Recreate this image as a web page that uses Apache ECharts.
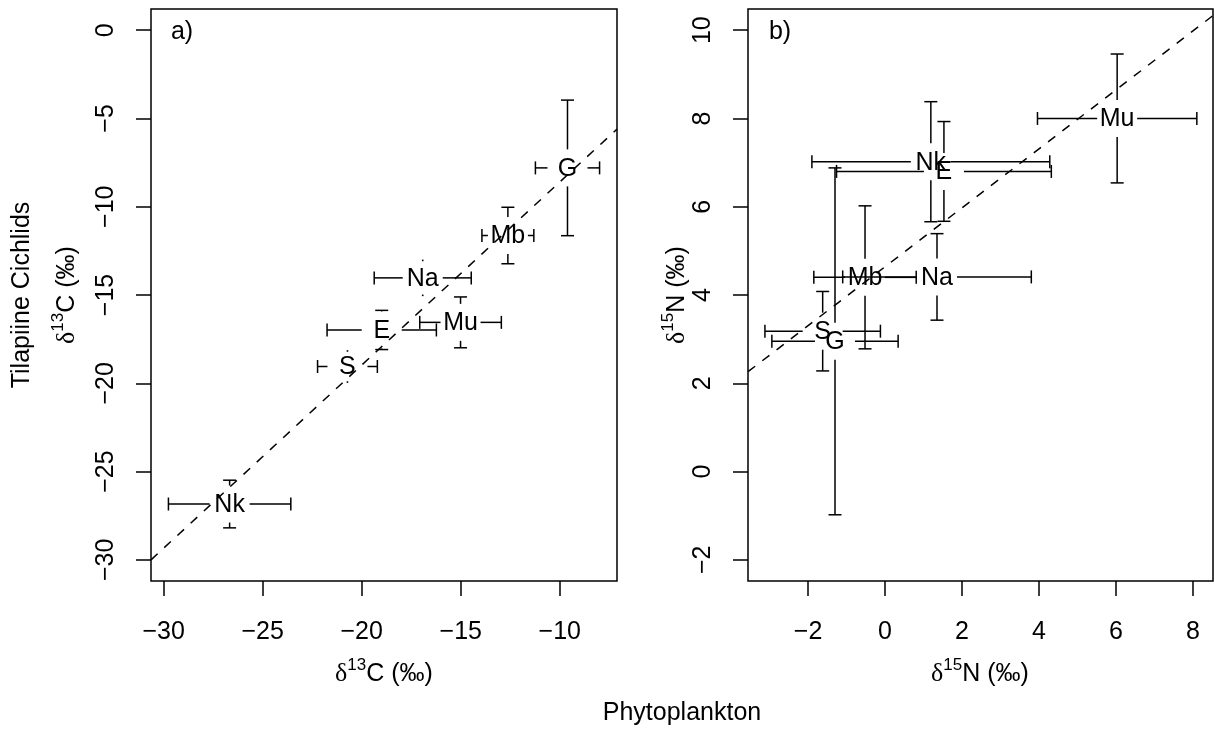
<!DOCTYPE html>
<html><head><meta charset="utf-8">
<script src="https://cdn.jsdelivr.net/npm/echarts@6/dist/echarts.min.js"></script>
<style>html,body{margin:0;padding:0;background:#fff}#c{width:1214px;height:729px}</style>
</head><body><div id="c"></div>
<script>
// ---- data ----
const species = ['G', 'Mb', 'Na', 'Mu', 'E', 'S', 'Nk'];
// panel a: delta13C
const phytoC   = [-9.61, -12.62, -16.92, -15.01, -18.99, -20.72, -26.67];
const phytoCsd = [1.62, 1.31, 2.45, 2.06, 2.76, 1.51, 3.09];
const fishC    = [-7.80, -11.63, -14.03, -16.55, -16.98, -19.05, -26.84];
const fishCsd  = [3.84, 1.60, 0.99, 1.44, 1.11, 0.88, 1.35];
// panel b: delta15N
const phytoN   = [-1.30, -0.52, 1.35, 6.03, 1.53, -1.62, 1.19];
const phytoNsd = [1.64, 1.33, 2.45, 2.07, 2.79, 1.50, 3.09];
const fishN    = [2.95, 4.40, 4.41, 8.00, 6.80, 3.18, 7.02];
const fishNsd  = [3.93, 1.62, 0.98, 1.46, 1.13, 0.90, 1.36];
// tick labels
const xTicksA = [-30, -25, -20, -15, -10];
const yTicksA = [-30, -25, -20, -15, -10, -5, 0];
const xTicksB = [-2, 0, 2, 4, 6, 8];
const yTicksB = [-2, 0, 2, 4, 6, 8, 10];
// dashed reference lines: [intercept, slope]
const fitA = [1.77, 1.037];
const fitB = [4.64, 0.668];

// ---- chart ----
const FONT = 'Liberation Sans, Arial, Helvetica, sans-serif';
const XA = [-30.64, -7.11], YA = [-31.2, 1.2];
const XB = [-3.56, 8.52],  YB = [-2.48, 10.48];
const fmt = v => (v < 0 ? '\u2212' + Math.abs(v) : String(v));

function rowsOf(xs, xsd, ys, ysd) {
  return species.map((s, i) => [xs[i], ys[i], xsd[i], ysd[i]]);
}

function errRender(params, api) {
  const i = params.dataIndex;
  const x = api.value(0), y = api.value(1), xe = api.value(2), ye = api.value(3);
  const c = api.coord([x, y]);
  const l = api.coord([x - xe, y])[0], r = api.coord([x + xe, y])[0];
  const t = api.coord([x, y + ye])[1], b = api.coord([x, y - ye])[1];
  const GX = 20, GY = 18.5, CAP = 6.5;
  const st = { stroke: '#000', lineWidth: 1.5, fill: null };
  const ch = [];
  const seg = (x1, y1, x2, y2) => ch.push({ type: 'line', shape: { x1, y1, x2, y2 }, style: st });
  const dot = (px, py) => ch.push({ type: 'rect', shape: { x: px - 0.8, y: py - 0.8, width: 1.6, height: 1.6 }, style: { fill: '#000' } });
  if (c[0] - l > GX) { seg(c[0] - GX, c[1], l, c[1]); seg(l, c[1] - CAP, l, c[1] + CAP); } else dot(l, c[1]);
  if (r - c[0] > GX) { seg(c[0] + GX, c[1], r, c[1]); seg(r, c[1] - CAP, r, c[1] + CAP); } else dot(r, c[1]);
  if (c[1] - t > GY) { seg(c[0], c[1] - GY, c[0], t); seg(c[0] - CAP, t, c[0] + CAP, t); } else dot(c[0], t);
  if (b - c[1] > GY) { seg(c[0], c[1] + GY, c[0], b); seg(c[0] - CAP, b, c[0] + CAP, b); } else dot(c[0], b);
  ch.push({ type: 'text', x: c[0], y: c[1] + 1, style: { text: species[i], fontSize: 25, fontFamily: FONT, fill: '#000', align: 'center', verticalAlign: 'middle' } });
  return { type: 'group', children: ch };
}

function xAxisOf(idx, rng, ticks) {
  return {
    type: 'value', gridIndex: idx, min: rng[0], max: rng[1],
    splitLine: { show: false }, axisLine: { show: false, onZero: false },
    axisTick: { show: true, customValues: ticks, length: 15, lineStyle: { color: '#000', width: 1.5 } },
    axisLabel: { customValues: ticks, formatter: fmt, fontSize: 25, fontFamily: FONT, color: '#000', margin: 39 }
  };
}
function yAxisOf(idx, rng, ticks) {
  return {
    type: 'value', gridIndex: idx, min: rng[0], max: rng[1],
    splitLine: { show: false }, axisLine: { show: false, onZero: false },
    axisTick: { show: true, customValues: ticks, length: 15, lineStyle: { color: '#000', width: 1.5 } },
    axisLabel: { customValues: ticks, formatter: fmt, fontSize: 25, fontFamily: FONT, color: '#000', margin: 32, rotate: 90 }
  };
}
function fitLine(fit, rng) {
  return [[rng[0], fit[0] + fit[1] * rng[0]], [rng[1], fit[0] + fit[1] * rng[1]]];
}

const richT = {
  d: { fontFamily: 'Liberation Serif, DejaVu Serif, serif', fontSize: 26, verticalAlign: 'bottom', lineHeight: 30 },
  s: { fontFamily: FONT, fontSize: 17, verticalAlign: 'top', lineHeight: 30 },
  n: { fontFamily: FONT, fontSize: 25, verticalAlign: 'bottom', lineHeight: 30 }
};
function titleText(x, y, str, rot) {
  return { type: 'text', x, y, rotation: rot || 0, silent: true,
    style: { text: str, rich: richT, align: 'center', verticalAlign: 'middle', fill: '#000', fontSize: 25, fontFamily: FONT } };
}
function plainText(x, y, str, rot) {
  return { type: 'text', x, y, rotation: rot || 0, silent: true,
    style: { text: str, align: 'center', verticalAlign: 'middle', fill: '#000', fontSize: 25, fontFamily: FONT } };
}

const chart = echarts.init(document.getElementById('c'), null, { renderer: 'canvas' });
chart.setOption({
  animation: false,
  backgroundColor: '#fff',
  grid: [
    { left: 151, top: 9, width: 466, height: 572, show: true, borderColor: '#000', borderWidth: 1.5, backgroundColor: 'transparent' },
    { left: 748, top: 9, width: 465, height: 572, show: true, borderColor: '#000', borderWidth: 1.5, backgroundColor: 'transparent' }
  ],
  xAxis: [xAxisOf(0, XA, xTicksA), xAxisOf(1, XB, xTicksB)],
  yAxis: [yAxisOf(0, YA, yTicksA), yAxisOf(1, YB, yTicksB)],
  series: [
    { type: 'custom', xAxisIndex: 0, yAxisIndex: 0, renderItem: errRender, data: rowsOf(phytoC, phytoCsd, fishC, fishCsd), encode: { x: 0, y: 1 }, z: 2 },
    { type: 'custom', xAxisIndex: 1, yAxisIndex: 1, renderItem: errRender, data: rowsOf(phytoN, phytoNsd, fishN, fishNsd), encode: { x: 0, y: 1 }, z: 2 },
    { type: 'line', xAxisIndex: 0, yAxisIndex: 0, data: fitLine(fitA, XA), symbol: 'none', silent: true, z: 5,
      lineStyle: { color: '#000', width: 1.5, type: [9, 9] } },
    { type: 'line', xAxisIndex: 1, yAxisIndex: 1, data: fitLine(fitB, XB), symbol: 'none', silent: true, z: 5,
      lineStyle: { color: '#000', width: 1.5, type: [9, 9] } }
  ],
  graphic: [
    plainText(182, 32, 'a)'),
    plainText(780, 32, 'b)'),
    titleText(384, 672, '{d|δ}{s|13}{n|C (‰)}'),
    titleText(980, 672, '{d|δ}{s|15}{n|N (‰)}'),
    plainText(682, 713, 'Phytoplankton'),
    plainText(22, 295, 'Tilapiine Cichlids', Math.PI / 2),
    titleText(65, 295, '{d|δ}{s|13}{n|C (‰)}', Math.PI / 2),
    titleText(675, 295, '{d|δ}{s|15}{n|N (‰)}', Math.PI / 2)
  ]
});
</script>
</body></html>
